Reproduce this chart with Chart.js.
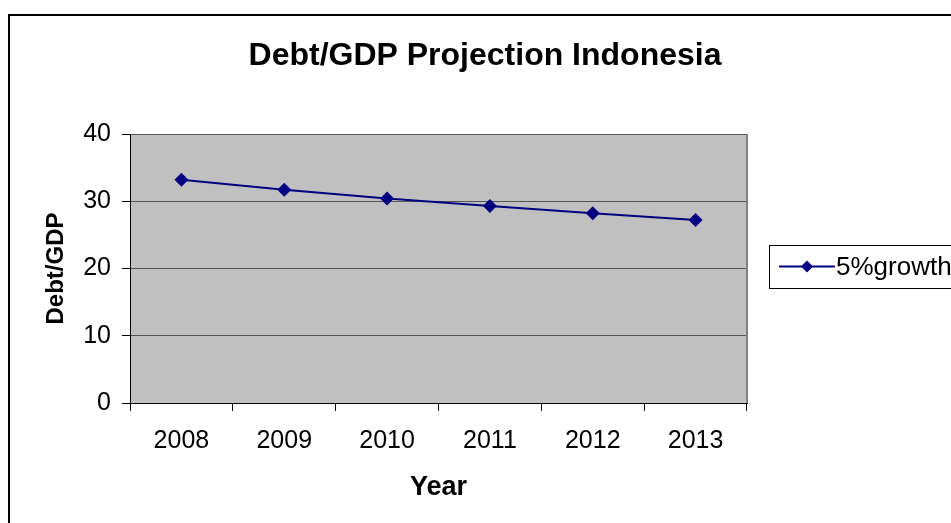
<!DOCTYPE html>
<html>
<head>
<meta charset="utf-8">
<script src="https://cdn.jsdelivr.net/npm/chart.js@4/dist/chart.umd.min.js"></script>
<style>
html,body{margin:0;padding:0;background:#fff;overflow:hidden;}
#wrap{width:951px;height:523px;}
</style>
</head>
<body>
<div id="wrap"><canvas id="c" width="951" height="523"></canvas></div>
<script>
const chartTitle = 'Debt/GDP Projection Indonesia';
const years = ['2008', '2009', '2010', '2011', '2012', '2013'];
const seriesName = '5%growth';
const debtGdp = [33.2, 31.7, 30.4, 29.3, 28.2, 27.2];
const yTicks = [0, 10, 20, 30, 40];
const xTitle = 'Year';
const yTitle = 'Debt/GDP';

const FONT = '"Liberation Sans", Arial, sans-serif';
const NAVY = '#000080';

const decor = {
  id: 'decor',
  beforeDraw(chart) {
    const {ctx, chartArea: a} = chart;
    ctx.save();
    ctx.fillStyle = '#fff';
    ctx.fillRect(0, 0, chart.width, chart.height);
    ctx.fillStyle = '#c0c0c0';
    ctx.fillRect(a.left, a.top, a.right - a.left, a.bottom - a.top);
    ctx.restore();
  },
  afterDraw(chart) {
    const {ctx, chartArea: a} = chart;
    ctx.save();
    // right border of plot
    ctx.strokeStyle = '#808080';
    ctx.lineWidth = 2;
    ctx.beginPath();
    ctx.moveTo(a.right, a.top);
    ctx.lineTo(a.right, a.bottom);
    ctx.stroke();
    // outer frame
    ctx.strokeStyle = '#000';
    ctx.lineWidth = 2;
    ctx.strokeRect(9, 15, 1100, 1100);
    // title
    ctx.fillStyle = '#000';
    ctx.font = 'bold 32px ' + FONT;
    ctx.textAlign = 'center';
    ctx.textBaseline = 'middle';
    ctx.fillText(chartTitle, 485, 56);
    // legend
    const ds = chart.data.datasets[0];
    const lx = 769, ly = 245, lw = 300, lh = 43;
    ctx.fillStyle = '#fff';
    ctx.fillRect(lx, ly, lw, lh);
    ctx.strokeStyle = '#000';
    ctx.lineWidth = 1;
    ctx.strokeRect(lx + 0.5, ly + 0.5, lw, lh);
    const cy = ly + lh / 2;
    ctx.strokeStyle = ds.borderColor;
    ctx.lineWidth = 2;
    ctx.beginPath();
    ctx.moveTo(lx + 10, cy);
    ctx.lineTo(lx + 66, cy);
    ctx.stroke();
    ctx.fillStyle = ds.backgroundColor;
    ctx.beginPath();
    const mx = lx + 38, r = 6;
    ctx.moveTo(mx, cy - r); ctx.lineTo(mx + r, cy); ctx.lineTo(mx, cy + r); ctx.lineTo(mx - r, cy); ctx.closePath();
    ctx.fill();
    ctx.fillStyle = '#000';
    ctx.font = '26px ' + FONT;
    ctx.textAlign = 'left';
    ctx.fillText(ds.label, lx + 67, cy + 1);
    ctx.restore();
  }
};

new Chart(document.getElementById('c'), {
  type: 'line',
  data: {
    labels: years,
    datasets: [{
      label: seriesName,
      data: debtGdp,
      borderColor: NAVY,
      backgroundColor: NAVY,
      borderWidth: 2,
      pointStyle: 'rectRot',
      pointRadius: 7,
      pointHoverRadius: 7,
      pointBorderWidth: 0,
      tension: 0
    }]
  },
  options: {
    responsive: false,
    animation: false,
    devicePixelRatio: 1,
    layout: {padding: {left: 0, top: 134, right: 204, bottom: 0}},
    plugins: {legend: {display: false}, title: {display: false}, tooltip: {enabled: false}},
    scales: {
      x: {
        offset: true,
        afterFit(s) { s.height = 120; },
        grid: {offset: true, drawOnChartArea: false, drawTicks: true, tickLength: 8, tickColor: '#000'},
        border: {display: true, color: '#000', width: 1},
        ticks: {color: '#000', font: {family: FONT, size: 25}, padding: 15, maxRotation: 0},
        title: {display: true, text: xTitle, color: '#000', font: {family: FONT, size: 27, weight: 'bold'}, padding: {top: 0, bottom: 19}}
      },
      y: {
        min: 0, max: 40,
        afterFit(s) { s.width = 130; },
        afterBuildTicks(s) { s.ticks = yTicks.map(v => ({value: v})); },
        grid: {color: '#555', lineWidth: 1, drawTicks: true, tickLength: 8, tickColor: '#000'},
        border: {display: true, color: '#000', width: 1},
        ticks: {color: '#000', font: {family: FONT, size: 25}, padding: 11},
        title: {display: true, text: yTitle, color: '#000', font: {family: FONT, size: 24, weight: 'bold'}, padding: {top: 42, bottom: 0}}
      }
    }
  },
  plugins: [decor]
});
</script>
</body>
</html>
